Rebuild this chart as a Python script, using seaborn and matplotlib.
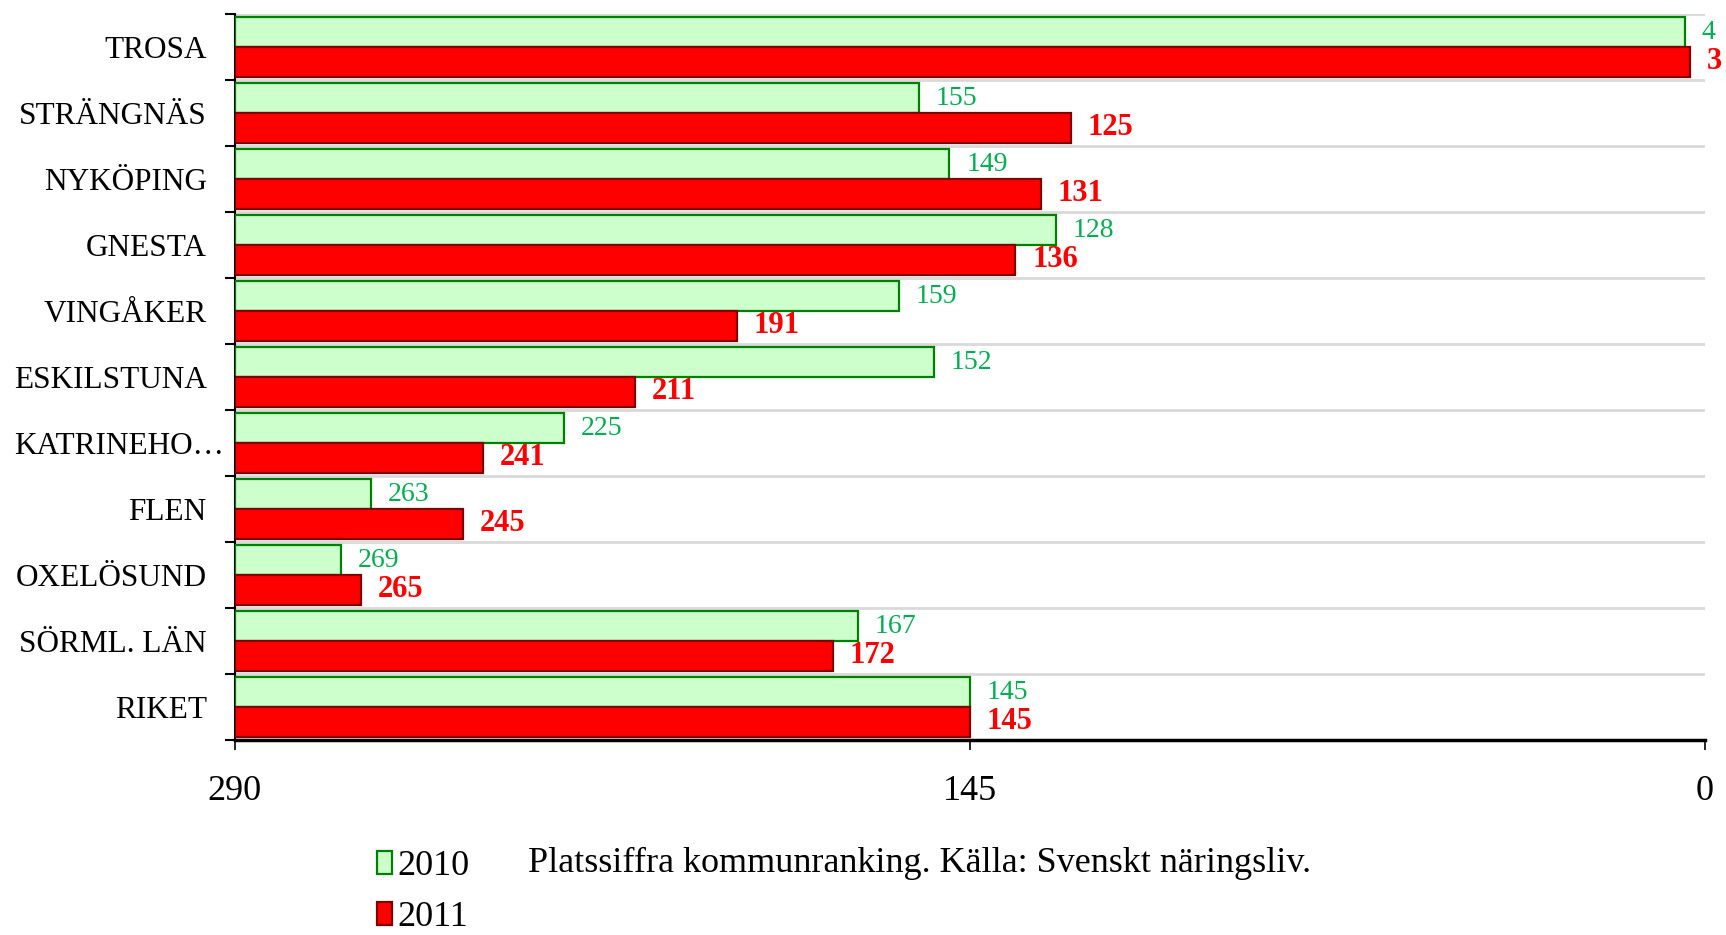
import matplotlib
matplotlib.use("Agg")
import matplotlib.pyplot as plt
import matplotlib.ticker as mticker
from matplotlib.patches import Patch
import pandas as pd
import seaborn as sns

kommuner = ["TROSA", "STRÄNGNÄS", "NYKÖPING", "GNESTA", "VINGÅKER", "ESKILSTUNA",
            "KATRINEHO…", "FLEN", "OXELÖSUND", "SÖRML. LÄN", "RIKET"]
rank_2010 = [4, 155, 149, 128, 159, 152, 225, 263, 269, 167, 145]
rank_2011 = [3, 125, 131, 136, 191, 211, 241, 245, 265, 172, 145]
years = ["2010", "2011"]
x_max = 290
x_ticks = [290, 145, 0]
caption = "Platssiffra kommunranking. Källa: Svenskt näringsliv."

df = pd.DataFrame({
    "kommun": kommuner * 2,
    "year": [years[0]] * len(kommuner) + [years[1]] * len(kommuner),
    "rank": rank_2010 + rank_2011,
})
# axis runs 290 -> 0, bars grow from the left edge (290)
df["bar"] = x_max - df["rank"]

sns.set_style("white")
plt.rcParams["font.family"] = ["Liberation Serif", "DejaVu Serif"]
plt.rcParams["text.color"] = "black"
plt.rcParams["xtick.color"] = "black"
plt.rcParams["ytick.color"] = "black"
plt.rcParams["axes.edgecolor"] = "black"

fills = {"2010": "#CCFFCC", "2011": "#FF0000"}
edges = {"2010": "#008000", "2011": "#800000"}

fig = plt.figure(figsize=(17.26, 9.35), dpi=100)
ax = fig.add_axes([0.1359, 0.2086, 0.8519, 0.7764])

sns.barplot(data=df, y="kommun", x="bar", hue="year", orient="h",
            palette=fills, saturation=1, width=0.9, legend=False, ax=ax, zorder=3)

for cont, yr in zip(ax.containers, years):
    for p in cont:
        p.set_edgecolor(edges[yr])
        p.set_linewidth(1.6)

ax.bar_label(ax.containers[0], labels=[str(v) for v in rank_2010], padding=12,
             fontsize=20, color="#00B050")
ax.bar_label(ax.containers[1], labels=[str(v) for v in rank_2011], padding=12,
             fontsize=22, color="#FF0000", fontweight="bold")

ax.set_xlim(0, x_max)
ax.set_xticks([x_max - t for t in x_ticks])
ax.xaxis.set_major_formatter(mticker.FuncFormatter(lambda v, pos: f"{x_max - v:.0f}"))
ax.set_ylim(len(kommuner) - 0.5, -0.5)

bounds = [i - 0.5 for i in range(len(kommuner) + 1)]
ax.set_yticks(bounds, minor=True)
ax.tick_params(axis="y", which="major", length=0, pad=20, labelsize=22.5)
ax.tick_params(axis="y", which="minor", length=7, width=1.5, direction="out", left=True)
ax.tick_params(axis="x", which="major", length=7, width=1.2, direction="out",
               bottom=True, labelsize=26, pad=18)
ax.grid(axis="y", which="minor", color="#D9D9D9", linewidth=2, zorder=0)
ax.grid(axis="y", which="major", visible=False)
ax.grid(axis="x", visible=False)

# the truncated label sits a little further right, as in the original
ax.get_yticklabels()[6].set_x(0.012)

for side in ["top", "right"]:
    ax.spines[side].set_visible(False)
ax.spines["left"].set_linewidth(1.5)
ax.spines["bottom"].set_linewidth(2.5)
ax.set_xlabel("")
ax.set_ylabel("")

handles = [Patch(facecolor=fills[y], edgecolor=edges[y], linewidth=1.6) for y in years]
fig.legend(handles, years, loc="upper left", bbox_to_anchor=(0.208, 0.11), frameon=False,
           fontsize=26, handlelength=0.4, handleheight=0.6, handletextpad=0.15,
           borderpad=0, labelspacing=0.5)
fig.text(0.306, 0.076, caption, fontsize=26, va="center", ha="left")

fig.savefig("out.png", dpi=100)
